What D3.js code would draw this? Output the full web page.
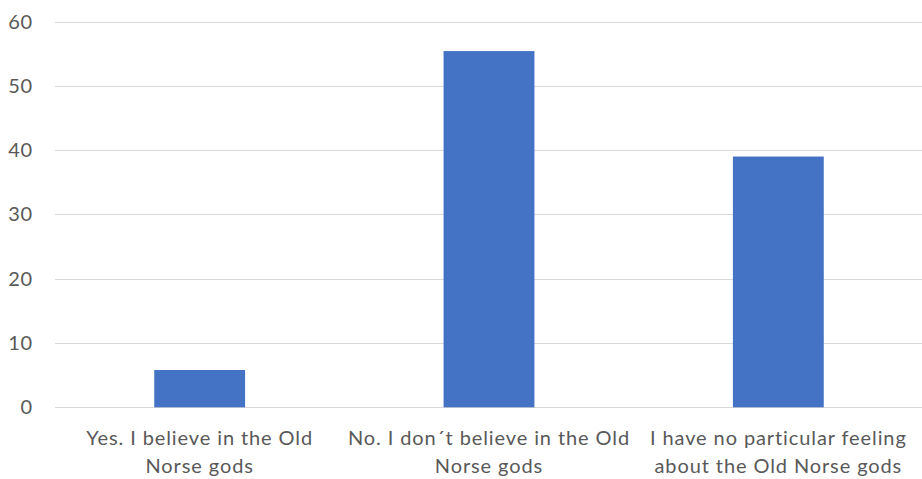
<!DOCTYPE html>
<html><head><meta charset="utf-8">
<script src="https://cdn.jsdelivr.net/npm/d3@7"></script>
<style>html,body{margin:0;padding:0;background:#fff;}svg{display:block;}</style>
</head><body>
<svg id="chart" width="922" height="479"></svg>
<script>
const categories = [
  "Yes. I believe in the Old\nNorse gods",
  "No. I don´t believe in the Old\nNorse gods",
  "I have no particular feeling\nabout the Old Norse gods"
];
const values = [5.8, 55.4, 39.0];
const yTicks = [0, 10, 20, 30, 40, 50, 60];

const svg = d3.select("#chart");
const mLeft = 55, mRight = 923, mTop = 21.5, mBottom = 407.3;
const font = "Lato, 'Noto Sans', sans-serif";

const x = d3.scaleBand().domain(categories).range([mLeft, mRight]).paddingInner(0.686).paddingOuter(0.343);
const y = d3.scaleLinear().domain([0, 60]).range([mBottom, mTop]);

// gridlines
svg.append("g").selectAll("line").data(yTicks).join("line")
  .attr("x1", mLeft).attr("x2", 922)
  .attr("y1", d => Math.round(y(d)) + 0.5).attr("y2", d => Math.round(y(d)) + 0.5)
  .attr("stroke", "#d9d9d9").attr("stroke-width", 1);

// y tick labels
svg.append("g").selectAll("text").data(yTicks).join("text")
  .attr("x", 33).attr("y", d => y(d)).attr("dy", "0.35em")
  .attr("text-anchor", "end").attr("fill", "#595959")
  .style("font-family", font).style("font-size", "20px").style("letter-spacing", "0.8px")
  .text(d => d);

// bars
svg.append("g").selectAll("rect").data(values).join("rect")
  .attr("x", (d, i) => x(categories[i]))
  .attr("width", x.bandwidth())
  .attr("y", d => y(d))
  .attr("height", d => y(0) - y(d))
  .attr("fill", "#4472C4");

// category labels
const lab = svg.append("g").selectAll("text").data(categories).join("text")
  .attr("text-anchor", "middle").attr("fill", "#595959")
  .style("font-family", font).style("font-size", "20px").style("letter-spacing", "0.9px")
  .attr("transform", d => `translate(${x(d) + x.bandwidth() / 2},445)`);
lab.selectAll("tspan").data(d => d.split("\n")).join("tspan")
  .attr("x", 0).attr("y", (d, i) => i * 27.5).text(d => d);
</script>
</body></html>
